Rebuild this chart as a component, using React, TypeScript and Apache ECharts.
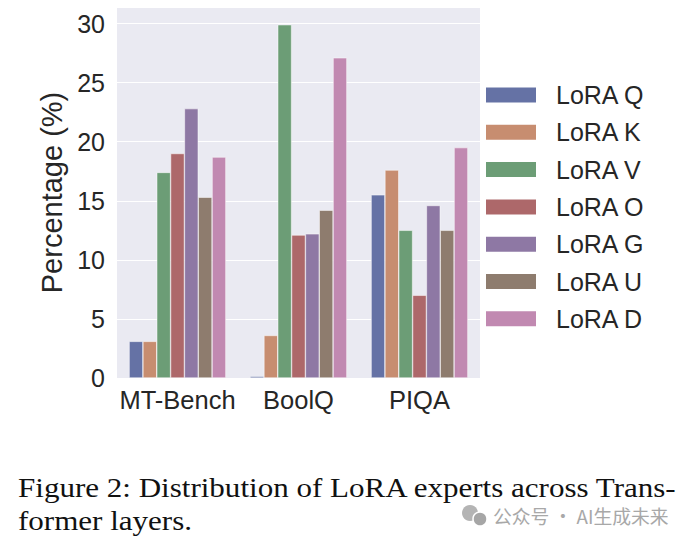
import React, { useEffect, useRef } from "react";
import * as echarts from "echarts";

const categories = ["MT-Bench", "BoolQ", "PIQA"];
const seriesNames = ["LoRA Q", "LoRA K", "LoRA V", "LoRA O", "LoRA G", "LoRA U", "LoRA D"];
const loraQ = [3.1, 0.15, 15.5];
const loraK = [3.1, 3.6, 17.6];
const loraV = [17.4, 29.9, 12.5];
const loraO = [19.0, 12.1, 7.0];
const loraG = [22.8, 12.2, 14.6];
const loraU = [15.3, 14.2, 12.5];
const loraD = [18.7, 27.1, 19.5];
const seriesValues = [loraQ, loraK, loraV, loraO, loraG, loraU, loraD];
const colors = ["#6572a5", "#c78d70", "#6c9d76", "#ad686a", "#8e78a4", "#8e7c6e", "#c189b1"];
const yTicks = [0, 5, 10, 15, 20, 25, 30];
const captionLine1 = "Figure 2: Distribution of LoRA experts across Trans-";
const captionLine2 = "former layers.";
const watermark = "公众号 · AI生成未来";

export default function App() {
  const ref = useRef<HTMLDivElement>(null);
  useEffect(() => {
    if (!ref.current) return;
    const chart = echarts.init(ref.current, null, { renderer: "svg" });
    const font = "'Liberation Sans', Arial, sans-serif";
    const serif = "'Liberation Serif', 'Times New Roman', serif";
    chart.setOption({
      animation: false,
      backgroundColor: "#ffffff",
      grid: {
        left: 117,
        right: 211,
        top: 7,
        bottom: 167,
        show: true,
        backgroundColor: "#EAEAF2",
        borderWidth: 0,
      },
      legend: {
        orient: "vertical",
        left: 484,
        top: 81,
        padding: 0,
        itemWidth: 52,
        itemHeight: 17,
        itemGap: 9.3,
        icon: "rect",
        data: seriesNames,
        textStyle: {
          fontFamily: font,
          fontSize: 25,
          color: "#262626",
          lineHeight: 28,
          padding: [0, 0, 0, 14],
        },
      },
      xAxis: {
        type: "category",
        data: categories,
        axisLine: { show: false },
        axisTick: { show: false },
        splitLine: { show: false },
        axisLabel: { interval: 0, fontFamily: font, fontSize: 25.5, color: "#262626", margin: 9 },
      },
      yAxis: {
        type: "value",
        min: 0,
        max: 31.4,
        interval: 5,
        name: "Percentage (%)",
        nameLocation: "middle",
        nameRotate: 90,
        nameGap: 42,
        nameTextStyle: { fontFamily: font, fontSize: 29, color: "#262626" },
        axisLine: { show: false },
        axisTick: { show: false },
        splitLine: { show: true, lineStyle: { color: "#ffffff", width: 1.2 } },
        axisLabel: {
          fontFamily: font,
          fontSize: 25,
          color: "#262626",
          margin: 12,
          showMaxLabel: false,
          formatter: (v: number) => (yTicks.includes(v) ? String(v) : ""),
        },
      },
      series: seriesNames.map((name, i) => ({
        name,
        type: "bar",
        data: seriesValues[i],
        barGap: "0%",
        barCategoryGap: "20%",
        itemStyle: { color: colors[i], borderColor: "#ffffff", borderWidth: 0.5 },
      })),
      graphic: [
        {
          type: "text",
          x: 18,
          y: 474,
          scaleX: 1.15,
          style: {
            text: captionLine1,
            fontFamily: serif,
            fontSize: 27,
            fill: "#111111",
          },
        },
        {
          type: "text",
          x: 18,
          y: 507,
          scaleX: 1.15,
          style: {
            text: captionLine2,
            fontFamily: serif,
            fontSize: 27,
            fill: "#111111",
          },
        },
        {
          type: "circle",
          shape: { cx: 470, cy: 513, r: 8 },
          style: { fill: "#b4b4b4" },
        },
        {
          type: "circle",
          shape: { cx: 480, cy: 519, r: 7 },
          style: { fill: "#a6a6a6", stroke: "#ffffff", lineWidth: 1.5 },
        },
        {
          type: "text",
          left: 493,
          top: 506,
          style: {
            text: watermark,
            fontFamily: "'Noto Sans CJK SC', sans-serif",
            fontSize: 18.8,
            fill: "#a8a8a8",
          },
        },
      ],
    });
    return () => chart.dispose();
  }, []);
  return (
    <div
      ref={ref}
      style={{ position: "fixed", left: 0, top: 0, width: 691, height: 545 }}
    />
  );
}
